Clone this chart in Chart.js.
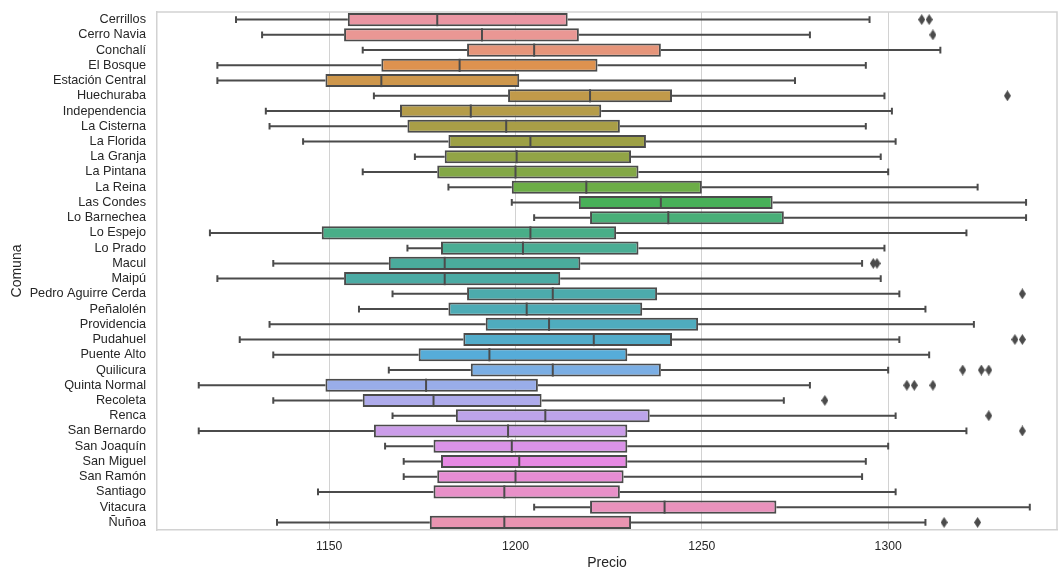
<!DOCTYPE html>
<html>
<head>
<meta charset="utf-8">
<script src="https://cdn.jsdelivr.net/npm/chart.js@4/dist/chart.umd.min.js"></script>
<style>
  html, body { margin: 0; padding: 0; background: #fff; overflow: hidden; }
  #wrap { position: relative; width: 1058px; height: 576px; }
</style>
</head>
<body>
<div id="wrap"><canvas id="chart"></canvas></div>
<script>
// Price distribution per comuna (five-number summaries + outliers)
const comunas = ["Cerrillos","Cerro Navia","Conchalí","El Bosque","Estación Central","Huechuraba","Independencia","La Cisterna","La Florida","La Granja","La Pintana","La Reina","Las Condes","Lo Barnechea","Lo Espejo","Lo Prado","Macul","Maipú","Pedro Aguirre Cerda","Peñalolén","Providencia","Pudahuel","Puente Alto","Quilicura","Quinta Normal","Recoleta","Renca","San Bernardo","San Joaquín","San Miguel","San Ramón","Santiago","Vitacura","Ñuñoa"];

const whiskerLow  = [1125,1132,1159,1120,1120,1162,1133,1134,1143,1173,1159,1182,1199,1205,1118,1171,1135,1120,1167,1158,1134,1126,1135,1166,1115,1135,1167,1115,1165,1170,1170,1147,1205,1136];
const q1          = [1155,1154,1187,1164,1149,1198,1169,1171,1182,1181,1179,1199,1217,1220,1148,1180,1166,1154,1187,1182,1192,1186,1174,1188,1149,1159,1184,1162,1178,1180,1179,1178,1220,1177];
const median      = [1179,1191,1205,1185,1164,1220,1188,1197.5,1204,1200.3,1200,1219,1239,1241,1204,1202,1181,1181,1210,1203,1209,1221,1193,1210,1176,1178,1208,1198,1199,1201,1200,1197,1240,1197];
const q3          = [1214,1217,1239,1222,1201,1242,1223,1228,1235,1231,1233,1250,1269,1272,1227,1233,1217.4,1212,1238,1234,1249,1242,1230,1239,1206,1207,1236,1230,1230,1230,1229,1228,1270,1231];
const whiskerHigh = [1295,1279,1314,1294,1275,1299,1301,1294,1302,1298,1300,1324,1337,1337,1321,1299,1293,1298,1303,1310,1323,1303,1311,1300,1279,1272,1302,1321,1300,1294,1293,1302,1338,1310];
const outliers = [
  [1309,1311],[1312],[],[],[],[1332],[],[],[],[],[],[],[],[],[],[],[1296,1297],[],
  [1336],[],[],[1334,1336],[],[1320,1325,1327],[1305,1307,1312],[1283],[1327],[1336],
  [],[],[],[],[],[1315,1324]
];
const xTicks = [1150, 1200, 1250, 1300];

// ---- HUSL palette (as used by seaborn) ----
const M = [[3.2406,-1.5372,-0.4986],[-0.9689,1.8758,0.0415],[0.0557,-0.2040,1.0570]];
const KAPPA = 903.2962962962963, EPS = 0.0088564516790356308;
const REF_U = 0.19783000664283, REF_V = 0.46831999493879;
function maxChroma(L, H) {
  const hr = H / 360 * Math.PI * 2, sinH = Math.sin(hr), cosH = Math.cos(hr);
  const sub1 = Math.pow(L + 16, 3) / 1560896;
  const sub2 = sub1 > EPS ? sub1 : L / KAPPA;
  let result = Infinity;
  for (const [m1, m2, m3] of M) {
    const top = (0.99915 * m1 + 1.05122 * m2 + 1.14460 * m3) * sub2;
    const rb = 0.86330 * m3 - 0.17266 * m2;
    const lb = 0.12949 * m3 - 0.38848 * m1;
    const bottom = (rb * sinH + lb * cosH) * sub2;
    for (const t of [0, 1]) {
      const C = L * (top - 1.05122 * t) / (bottom + 0.17266 * sinH * t);
      if (C > 0 && C < result) result = C;
    }
  }
  return result;
}
function huslToRgb(h, s, l) {
  let L = l, C;
  if (l > 99.9999999) C = 0; else if (l < 1e-8) C = 0; else C = maxChroma(l, h) / 100 * s;
  const hr = h / 360 * Math.PI * 2;
  const U = C * Math.cos(hr), V = C * Math.sin(hr);
  if (L === 0) return [0, 0, 0];
  const varY = L > KAPPA * EPS ? Math.pow((L + 16) / 116, 3) : L / KAPPA;
  const varU = U / (13 * L) + REF_U, varV = V / (13 * L) + REF_V;
  const Y = varY;
  const X = 0 - (9 * Y * varU) / ((varU - 4) * varV - varU * varV);
  const Z = (9 * Y - 15 * varV * Y - varV * X) / (3 * varV);
  const lin = [X, Y, Z];
  return M.map(row => {
    const c = row[0] * lin[0] + row[1] * lin[1] + row[2] * lin[2];
    const v = c <= 0.0031308 ? 12.92 * c : 1.055 * Math.pow(c, 1 / 2.4) - 0.055;
    return Math.min(1, Math.max(0, v));
  });
}
function rgbToHls([r, g, b]) {
  const mx = Math.max(r, g, b), mn = Math.min(r, g, b), l = (mx + mn) / 2;
  if (mx === mn) return [0, l, 0];
  const d = mx - mn;
  const s = l <= 0.5 ? d / (mx + mn) : d / (2 - mx - mn);
  let h;
  if (r === mx) h = (g - b) / d; else if (g === mx) h = 2 + (b - r) / d; else h = 4 + (r - g) / d;
  h = ((h / 6) % 1 + 1) % 1;
  return [h, l, s];
}
function hlsToRgb(h, l, s) {
  if (s === 0) return [l, l, l];
  const m2 = l <= 0.5 ? l * (1 + s) : l + s - l * s, m1 = 2 * l - m2;
  const v = hh => {
    hh = ((hh % 1) + 1) % 1;
    if (hh < 1 / 6) return m1 + (m2 - m1) * hh * 6;
    if (hh < 0.5) return m2;
    if (hh < 2 / 3) return m1 + (m2 - m1) * (2 / 3 - hh) * 6;
    return m1;
  };
  return [v(h + 1 / 3), v(h), v(h - 1 / 3)];
}
function huslPalette(n, h = 0.01, s = 0.9, l = 0.7) {
  const out = [];
  for (let i = 0; i < n; i++) {
    const hue = ((i / n + h) % 1) * 359;
    out.push(huslToRgb(hue, s * 99, l * 99));
  }
  return out;
}
const toCss = c => `rgb(${c.map(v => Math.round(v * 255)).join(",")})`;
const baseColors = huslPalette(comunas.length);
const boxColors = baseColors.map(c => { const [h, l, s] = rgbToHls(c); return hlsToRgb(h, l, s * 0.75); });
const lineGray = "#4b4b4b";

// thin diamond marker for outliers
function diamondMarker(w, h, color) {
  const c = document.createElement("canvas");
  c.width = w; c.height = h;
  const g = c.getContext("2d");
  g.fillStyle = color;
  g.beginPath();
  g.moveTo(w / 2, 0); g.lineTo(w, h / 2); g.lineTo(w / 2, h); g.lineTo(0, h / 2);
  g.closePath(); g.fill();
  return c;
}
const flierMarker = diamondMarker(7, 11, lineGray);

const outlierPoints = [];
outliers.forEach((vals, i) => vals.forEach(v => outlierPoints.push({ x: v, y: comunas[i] })));

const TEXT = "#262626";
const FONT = "'Liberation Sans', Arial, sans-serif";
const GRID = "#d2d2d2";

// whiskers, caps and median lines drawn through the chart scales
const boxExtras = {
  id: "boxExtras",
  beforeDatasetsDraw(chart) {
    const { ctx, scales: { x, y }, chartArea } = chart;
    const band = (y.getPixelForValue(1) - y.getPixelForValue(0));
    const capHalf = band * 0.22;
    ctx.save();
    ctx.beginPath();
    ctx.rect(chartArea.left, chartArea.top, chartArea.right - chartArea.left, chartArea.bottom - chartArea.top);
    ctx.clip();
    ctx.strokeStyle = lineGray;
    ctx.lineWidth = 2;
    ctx.lineCap = "butt";
    comunas.forEach((_, i) => {
      const yc = y.getPixelForValue(i);
      const xl = x.getPixelForValue(whiskerLow[i]), x1 = x.getPixelForValue(q1[i]);
      const x3 = x.getPixelForValue(q3[i]), xh = x.getPixelForValue(whiskerHigh[i]);
      ctx.beginPath();
      ctx.moveTo(xl, yc); ctx.lineTo(x1, yc);
      ctx.moveTo(x3, yc); ctx.lineTo(xh, yc);
      ctx.moveTo(xl, yc - capHalf); ctx.lineTo(xl, yc + capHalf);
      ctx.moveTo(xh, yc - capHalf); ctx.lineTo(xh, yc + capHalf);
      ctx.stroke();
    });
    ctx.restore();
  },
  afterDatasetsDraw(chart) {
    const { ctx, scales: { x, y } } = chart;
    const meta = chart.getDatasetMeta(0);
    ctx.save();
    ctx.strokeStyle = lineGray;
    ctx.lineWidth = 2;
    comunas.forEach((_, i) => {
      const bar = meta.data[i];
      const half = bar.height / 2;
      const yc = y.getPixelForValue(i);
      const xm = x.getPixelForValue(median[i]);
      ctx.beginPath();
      ctx.moveTo(xm, yc - half); ctx.lineTo(xm, yc + half);
      ctx.stroke();
    });
    ctx.restore();
  }
};

const noEdgePadding = s => { s.paddingTop = 0; s.paddingBottom = 0; s.paddingLeft = 0; s.paddingRight = 0; };

new Chart(document.getElementById("chart"), {
  type: "bar",
  data: {
    labels: comunas,
    datasets: [
      {
        type: "bar",
        label: "IQR",
        data: comunas.map((_, i) => [q1[i], q3[i]]),
        backgroundColor: boxColors.map(toCss),
        borderColor: lineGray,
        borderWidth: 2,
        borderSkipped: false,
        barPercentage: 0.86,
        categoryPercentage: 1.0,
        order: 2
      },
      {
        type: "scatter",
        label: "Outliers",
        indexAxis: "y",
        data: outlierPoints,
        pointStyle: flierMarker,
        pointRadius: 5,
        order: 1
      }
    ]
  },
  options: {
    indexAxis: "y",
    responsive: true,
    maintainAspectRatio: false,
    animation: false,
    layout: { autoPadding: false, padding: { top: 12, right: 1, left: 0, bottom: 0 } },
    plugins: { legend: { display: false }, tooltip: { enabled: false } },
    scales: {
      x: {
        type: "linear",
        min: 1103.8,
        max: 1345.3,
        afterBuildTicks: s => { s.ticks = xTicks.map(v => ({ value: v })); },
        afterFit: s => { s.height = 46; noEdgePadding(s); },
        grid: { color: GRID, lineWidth: 1, drawTicks: false },
        border: { display: true, color: GRID, width: 1.5 },
        ticks: { color: TEXT, font: { family: FONT, size: 12.2 }, padding: 9, callback: v => String(v) },
        title: { display: true, text: "Precio", color: TEXT, font: { family: FONT, size: 14 }, padding: { top: 0, bottom: 4 } }
      },
      y: {
        type: "category",
        offset: true,
        afterFit: s => { s.width = 157; noEdgePadding(s); },
        grid: { display: false, drawTicks: false },
        border: { display: true, color: GRID, width: 1.5 },
        ticks: { color: TEXT, font: { family: FONT, size: 12.7 }, padding: 11, autoSkip: false },
        title: { display: true, text: "Comuna", color: TEXT, font: { family: FONT, size: 14 }, padding: { top: 9, bottom: 0 } }
      }
    }
  },
  plugins: [
    boxExtras,
    {
      id: "frame",
      afterDraw(chart) {
        const { ctx, chartArea: a } = chart;
        ctx.save();
        ctx.strokeStyle = GRID;
        ctx.lineWidth = 1.5;
        ctx.beginPath();
        ctx.moveTo(a.left, a.top); ctx.lineTo(a.right, a.top); ctx.lineTo(a.right, a.bottom);
        ctx.stroke();
        ctx.restore();
      }
    }
  ]
});
</script>
</body>
</html>
